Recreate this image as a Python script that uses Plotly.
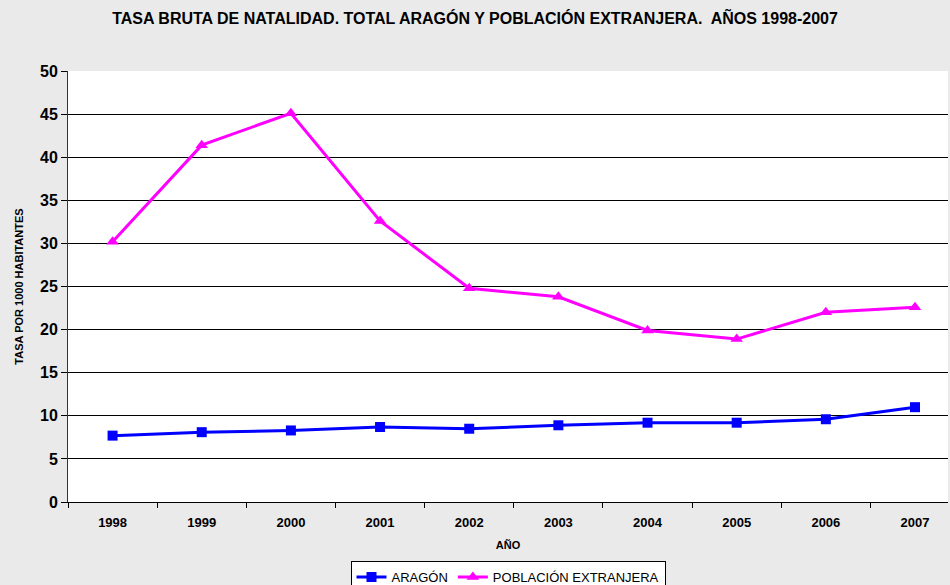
import plotly.graph_objects as go

# Tasa bruta de natalidad (por 1000 habitantes), 1998-2007
years = ["1998", "1999", "2000", "2001", "2002", "2003", "2004", "2005", "2006", "2007"]
aragon = [7.7, 8.1, 8.3, 8.7, 8.5, 8.9, 9.2, 9.2, 9.6, 11.0]
extranjera = [30.2, 41.4, 45.1, 32.6, 24.8, 23.8, 19.9, 18.9, 22.0, 22.6]

y_ticks = [0, 5, 10, 15, 20, 25, 30, 35, 40, 45, 50]

FONT = "Liberation Sans, Arial, sans-serif"

fig = go.Figure()
fig.add_trace(go.Scatter(
    x=years, y=aragon, name="ARAGÓN", mode="lines+markers",
    line=dict(color="#0000FF", width=3),
    marker=dict(symbol="square", size=10, color="#0000FF"),
))
fig.add_trace(go.Scatter(
    x=years, y=extranjera, name="POBLACIÓN EXTRANJERA", mode="lines+markers",
    line=dict(color="#FF00FF", width=3),
    marker=dict(symbol="triangle-up", size=11, color="#FF00FF"),
))

fig.update_layout(
    width=950, height=585,
    margin=dict(l=68, r=2, t=71, b=83, autoexpand=False),
    paper_bgcolor="#EAEAEA",
    plot_bgcolor="#FFFFFF",
    font=dict(family=FONT, color="#000000"),
    title=dict(
        text="TASA BRUTA DE NATALIDAD. TOTAL ARAGÓN Y POBLACIÓN EXTRANJERA.  AÑOS 1998-2007",
        x=0.5, xanchor="center", y=1 - 18 / 585, yanchor="middle",
        font=dict(size=16, family=FONT, weight="bold"),
    ),
    showlegend=True,
    legend=dict(
        orientation="h", x=0.5, xanchor="center",
        yref="container", y=1 - 561 / 585, yanchor="top",
        bgcolor="#FFFFFF", bordercolor="#000000", borderwidth=1,
        font=dict(size=13, family=FONT),
        itemwidth=30, tracegroupgap=0,
    ),
)

fig.update_xaxes(
    type="category",
    range=[-0.5, 9.37],
    tickson="boundaries",
    ticks="outside", ticklen=5, tickcolor="#000000",
    showline=True, linecolor="#000000", linewidth=1,
    showgrid=False,
    tickfont=dict(size=13, family=FONT, weight="bold"),
    ticklabelstandoff=8,
    title=dict(text="AÑO", font=dict(size=11, family=FONT, weight="bold"), standoff=12),
)

fig.update_yaxes(
    range=[0, 50],
    tickvals=y_ticks,
    ticks="outside", ticklen=6, tickcolor="#000000",
    showline=True, linecolor="#333333", linewidth=1,
    showgrid=True, gridcolor="#000000", gridwidth=1,
    zeroline=False,
    tickfont=dict(size=16, family=FONT, weight="bold"),
    title=dict(text="TASA POR 1000 HABITANTES", font=dict(size=11, family=FONT, weight="bold"), standoff=14),
)

fig.write_html("out.html")
